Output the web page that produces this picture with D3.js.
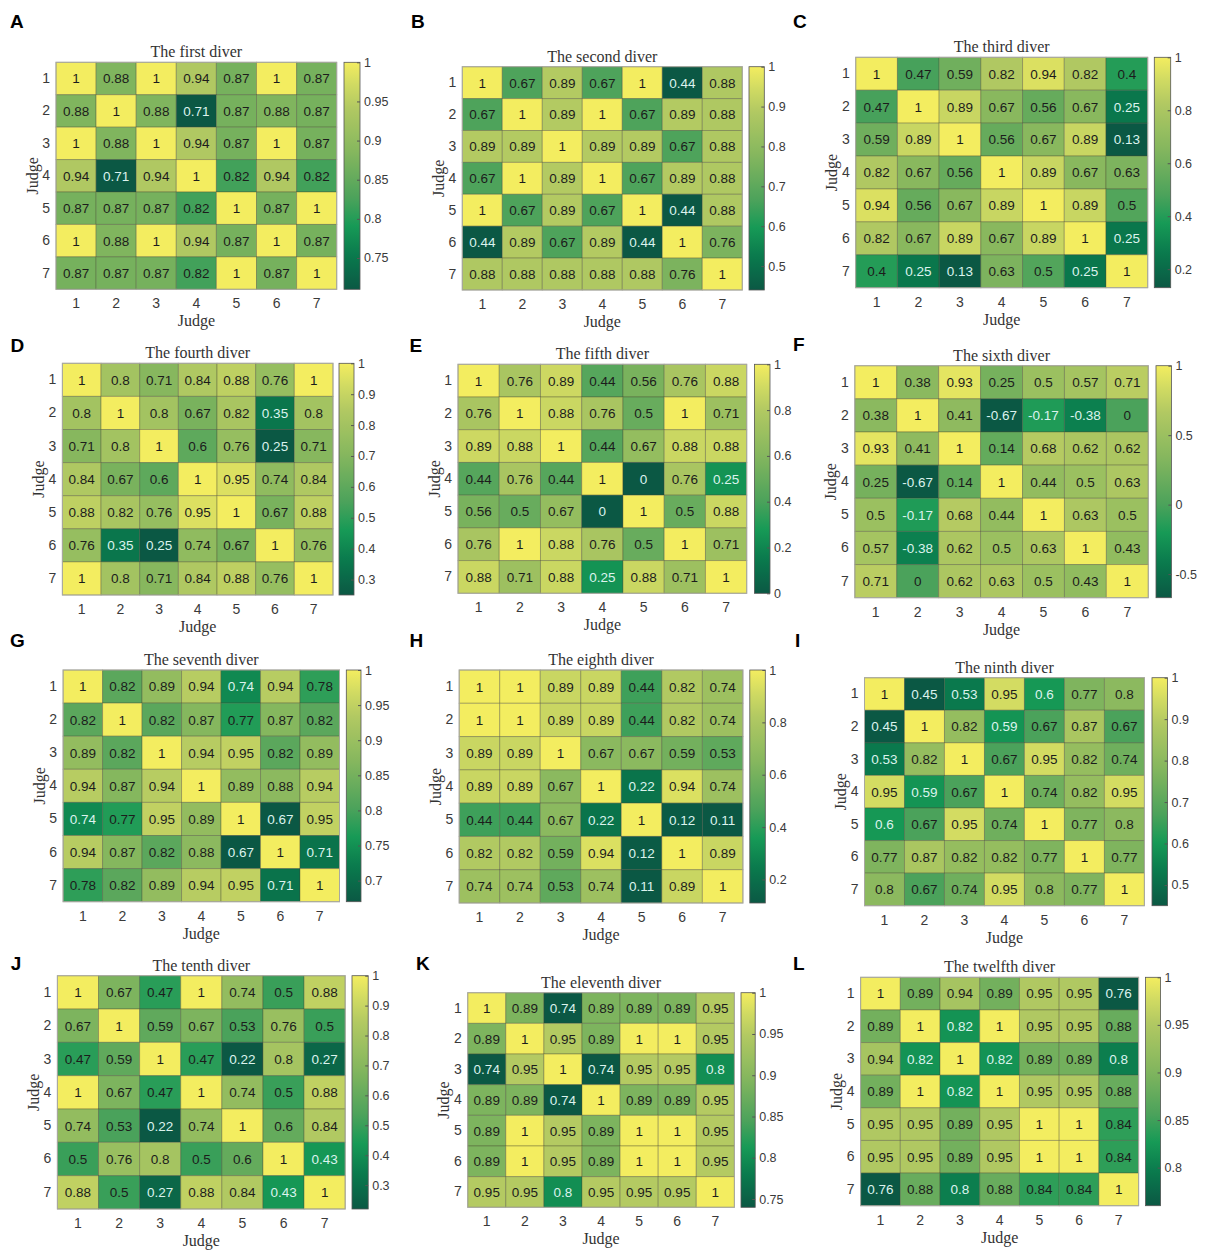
<!DOCTYPE html>
<html>
<head>
<meta charset="utf-8">
<script src="https://cdn.jsdelivr.net/npm/d3@7/dist/d3.min.js"></script>
<style>
body { margin: 0; background: #fff; }
svg { display: block; }
</style>
</head>
<body>
<svg id="fig" width="1205" height="1250"></svg>
<script>
var judges = [1, 2, 3, 4, 5, 6, 7];
var panelLetters = ["A", "B", "C", "D", "E", "F", "G", "H", "I", "J", "K", "L"];
var diverTitles = ["The first diver", "The second diver", "The third diver", "The fourth diver",
    "The fifth diver", "The sixth diver", "The seventh diver", "The eighth diver",
    "The ninth diver", "The tenth diver", "The eleventh diver", "The twelfth diver"];

// judge x judge agreement, row = judge on y axis
var diver1 = [
    [1, 0.88, 1, 0.94, 0.87, 1, 0.87],
    [0.88, 1, 0.88, 0.71, 0.87, 0.88, 0.87],
    [1, 0.88, 1, 0.94, 0.87, 1, 0.87],
    [0.94, 0.71, 0.94, 1, 0.82, 0.94, 0.82],
    [0.87, 0.87, 0.87, 0.82, 1, 0.87, 1],
    [1, 0.88, 1, 0.94, 0.87, 1, 0.87],
    [0.87, 0.87, 0.87, 0.82, 1, 0.87, 1]
];
var diver2 = [
    [1, 0.67, 0.89, 0.67, 1, 0.44, 0.88],
    [0.67, 1, 0.89, 1, 0.67, 0.89, 0.88],
    [0.89, 0.89, 1, 0.89, 0.89, 0.67, 0.88],
    [0.67, 1, 0.89, 1, 0.67, 0.89, 0.88],
    [1, 0.67, 0.89, 0.67, 1, 0.44, 0.88],
    [0.44, 0.89, 0.67, 0.89, 0.44, 1, 0.76],
    [0.88, 0.88, 0.88, 0.88, 0.88, 0.76, 1]
];
var diver3 = [
    [1, 0.47, 0.59, 0.82, 0.94, 0.82, 0.4],
    [0.47, 1, 0.89, 0.67, 0.56, 0.67, 0.25],
    [0.59, 0.89, 1, 0.56, 0.67, 0.89, 0.13],
    [0.82, 0.67, 0.56, 1, 0.89, 0.67, 0.63],
    [0.94, 0.56, 0.67, 0.89, 1, 0.89, 0.5],
    [0.82, 0.67, 0.89, 0.67, 0.89, 1, 0.25],
    [0.4, 0.25, 0.13, 0.63, 0.5, 0.25, 1]
];
var diver4 = [
    [1, 0.8, 0.71, 0.84, 0.88, 0.76, 1],
    [0.8, 1, 0.8, 0.67, 0.82, 0.35, 0.8],
    [0.71, 0.8, 1, 0.6, 0.76, 0.25, 0.71],
    [0.84, 0.67, 0.6, 1, 0.95, 0.74, 0.84],
    [0.88, 0.82, 0.76, 0.95, 1, 0.67, 0.88],
    [0.76, 0.35, 0.25, 0.74, 0.67, 1, 0.76],
    [1, 0.8, 0.71, 0.84, 0.88, 0.76, 1]
];
var diver5 = [
    [1, 0.76, 0.89, 0.44, 0.56, 0.76, 0.88],
    [0.76, 1, 0.88, 0.76, 0.5, 1, 0.71],
    [0.89, 0.88, 1, 0.44, 0.67, 0.88, 0.88],
    [0.44, 0.76, 0.44, 1, 0, 0.76, 0.25],
    [0.56, 0.5, 0.67, 0, 1, 0.5, 0.88],
    [0.76, 1, 0.88, 0.76, 0.5, 1, 0.71],
    [0.88, 0.71, 0.88, 0.25, 0.88, 0.71, 1]
];
var diver6 = [
    [1, 0.38, 0.93, 0.25, 0.5, 0.57, 0.71],
    [0.38, 1, 0.41, -0.67, -0.17, -0.38, 0],
    [0.93, 0.41, 1, 0.14, 0.68, 0.62, 0.62],
    [0.25, -0.67, 0.14, 1, 0.44, 0.5, 0.63],
    [0.5, -0.17, 0.68, 0.44, 1, 0.63, 0.5],
    [0.57, -0.38, 0.62, 0.5, 0.63, 1, 0.43],
    [0.71, 0, 0.62, 0.63, 0.5, 0.43, 1]
];
var diver7 = [
    [1, 0.82, 0.89, 0.94, 0.74, 0.94, 0.78],
    [0.82, 1, 0.82, 0.87, 0.77, 0.87, 0.82],
    [0.89, 0.82, 1, 0.94, 0.95, 0.82, 0.89],
    [0.94, 0.87, 0.94, 1, 0.89, 0.88, 0.94],
    [0.74, 0.77, 0.95, 0.89, 1, 0.67, 0.95],
    [0.94, 0.87, 0.82, 0.88, 0.67, 1, 0.71],
    [0.78, 0.82, 0.89, 0.94, 0.95, 0.71, 1]
];
var diver8 = [
    [1, 1, 0.89, 0.89, 0.44, 0.82, 0.74],
    [1, 1, 0.89, 0.89, 0.44, 0.82, 0.74],
    [0.89, 0.89, 1, 0.67, 0.67, 0.59, 0.53],
    [0.89, 0.89, 0.67, 1, 0.22, 0.94, 0.74],
    [0.44, 0.44, 0.67, 0.22, 1, 0.12, 0.11],
    [0.82, 0.82, 0.59, 0.94, 0.12, 1, 0.89],
    [0.74, 0.74, 0.53, 0.74, 0.11, 0.89, 1]
];
var diver9 = [
    [1, 0.45, 0.53, 0.95, 0.6, 0.77, 0.8],
    [0.45, 1, 0.82, 0.59, 0.67, 0.87, 0.67],
    [0.53, 0.82, 1, 0.67, 0.95, 0.82, 0.74],
    [0.95, 0.59, 0.67, 1, 0.74, 0.82, 0.95],
    [0.6, 0.67, 0.95, 0.74, 1, 0.77, 0.8],
    [0.77, 0.87, 0.82, 0.82, 0.77, 1, 0.77],
    [0.8, 0.67, 0.74, 0.95, 0.8, 0.77, 1]
];
var diver10 = [
    [1, 0.67, 0.47, 1, 0.74, 0.5, 0.88],
    [0.67, 1, 0.59, 0.67, 0.53, 0.76, 0.5],
    [0.47, 0.59, 1, 0.47, 0.22, 0.8, 0.27],
    [1, 0.67, 0.47, 1, 0.74, 0.5, 0.88],
    [0.74, 0.53, 0.22, 0.74, 1, 0.6, 0.84],
    [0.5, 0.76, 0.8, 0.5, 0.6, 1, 0.43],
    [0.88, 0.5, 0.27, 0.88, 0.84, 0.43, 1]
];
var diver11 = [
    [1, 0.89, 0.74, 0.89, 0.89, 0.89, 0.95],
    [0.89, 1, 0.95, 0.89, 1, 1, 0.95],
    [0.74, 0.95, 1, 0.74, 0.95, 0.95, 0.8],
    [0.89, 0.89, 0.74, 1, 0.89, 0.89, 0.95],
    [0.89, 1, 0.95, 0.89, 1, 1, 0.95],
    [0.89, 1, 0.95, 0.89, 1, 1, 0.95],
    [0.95, 0.95, 0.8, 0.95, 0.95, 0.95, 1]
];
var diver12 = [
    [1, 0.89, 0.94, 0.89, 0.95, 0.95, 0.76],
    [0.89, 1, 0.82, 1, 0.95, 0.95, 0.88],
    [0.94, 0.82, 1, 0.82, 0.89, 0.89, 0.8],
    [0.89, 1, 0.82, 1, 0.95, 0.95, 0.88],
    [0.95, 0.95, 0.89, 0.95, 1, 1, 0.84],
    [0.95, 0.95, 0.89, 0.95, 1, 1, 0.84],
    [0.76, 0.88, 0.8, 0.88, 0.84, 0.84, 1]
];

var cbTicks1 = [0.75, 0.8, 0.85, 0.9, 0.95, 1];
var cbTicks2 = [0.5, 0.6, 0.7, 0.8, 0.9, 1];
var cbTicks3 = [0.2, 0.4, 0.6, 0.8, 1];
var cbTicks4 = [0.3, 0.4, 0.5, 0.6, 0.7, 0.8, 0.9, 1];
var cbTicks5 = [0, 0.2, 0.4, 0.6, 0.8, 1];
var cbTicks6 = [-0.5, 0, 0.5, 1];
var cbTicks7 = [0.7, 0.75, 0.8, 0.85, 0.9, 0.95, 1];
var cbTicks8 = [0.2, 0.4, 0.6, 0.8, 1];
var cbTicks9 = [0.5, 0.6, 0.7, 0.8, 0.9, 1];
var cbTicks10 = [0.3, 0.4, 0.5, 0.6, 0.7, 0.8, 0.9, 1];
var cbTicks11 = [0.75, 0.8, 0.85, 0.9, 0.95, 1];
var cbTicks12 = [0.8, 0.85, 0.9, 0.95, 1];

var divers = [diver1, diver2, diver3, diver4, diver5, diver6, diver7, diver8, diver9, diver10, diver11, diver12];
var cbTicks = [cbTicks1, cbTicks2, cbTicks3, cbTicks4, cbTicks5, cbTicks6, cbTicks7, cbTicks8, cbTicks9, cbTicks10, cbTicks11, cbTicks12];

// where each panel sits on the page (heatmap box, colorbar x range, letter)
var boxes = [
    {l: 56, r: 336.7, t: 62.3, b: 289.3, cl: 344, cr: 360, lx: 10, ly: 28},
    {l: 462.3, r: 742.3, t: 66.7, b: 290, cl: 749, cr: 764.3, lx: 411, ly: 28},
    {l: 855.7, r: 1147.7, t: 57.3, b: 287.7, cl: 1154.3, cr: 1170.7, lx: 793, ly: 28},
    {l: 62.4, r: 333, t: 363.3, b: 595, cl: 339, cr: 354, lx: 10.5, ly: 352},
    {l: 458, r: 746.7, t: 364.3, b: 593.3, cl: 754.4, cr: 770, lx: 409.5, ly: 352},
    {l: 854.8, r: 1148.3, t: 365.7, b: 597.7, cl: 1156, cr: 1171.4, lx: 793, ly: 351},
    {l: 63.1, r: 339.5, t: 670, b: 901.7, cl: 346.3, cr: 361, lx: 10, ly: 647},
    {l: 459.2, r: 742.9, t: 670, b: 903, cl: 749.8, cr: 765.3, lx: 409.5, ly: 647},
    {l: 864.5, r: 1144.4, t: 677.7, b: 905.7, cl: 1152, cr: 1167.6, lx: 795, ly: 647},
    {l: 57.4, r: 345.2, t: 975.7, b: 1209, cl: 352, cr: 368.2, lx: 10.7, ly: 970},
    {l: 467.7, r: 734.4, t: 992.7, b: 1207.3, cl: 741, cr: 755.2, lx: 416, ly: 970},
    {l: 860.6, r: 1138.6, t: 977.3, b: 1205.7, cl: 1145.6, cr: 1160.6, lx: 793, ly: 970}
];

var sans = "'Liberation Sans', Arial, sans-serif",
    serif = "'Liberation Serif', 'Times New Roman', serif";

// dark teal -> green -> yellow
var cmapStops = [0, 0.15, 0.28, 0.4, 0.6, 0.8, 0.9, 1];
var cmap = d3.scaleLinear()
    .domain(cmapStops)
    .range(["#0b5844", "#0a7a4d", "#179a56", "#4ba25b", "#84b65e", "#b2c962", "#d0da62", "#f3ed60"])
    .interpolate(d3.interpolateRgb);

var svg = d3.select("#fig");
var defs = svg.append("defs");

var grad = defs.append("linearGradient")
    .attr("id", "cbgrad")
    .attr("x1", 0).attr("y1", 1).attr("x2", 0).attr("y2", 0);
d3.range(0, 1.0001, 0.02).forEach(function(t) {
    grad.append("stop").attr("offset", t).attr("stop-color", cmap(t));
});

divers.forEach(function(data, p) {
    var box = boxes[p];
    var lo = d3.min(data, function(row) { return d3.min(row); }),
        hi = 1;
    var norm = d3.scaleLinear().domain([lo, hi]).range([0, 1]);

    var x = d3.scaleBand().domain(judges).range([box.l, box.r]);
    var y = d3.scaleBand().domain(judges).range([box.t, box.b]);

    var g = svg.append("g");

    var cells = [];
    data.forEach(function(row, i) {
        row.forEach(function(v, j) {
            cells.push({row: judges[i], col: judges[j], v: v});
        });
    });

    g.selectAll("rect.cell").data(cells).enter().append("rect")
        .attr("class", "cell")
        .attr("x", function(d) { return x(d.col); })
        .attr("y", function(d) { return y(d.row); })
        .attr("width", x.bandwidth())
        .attr("height", y.bandwidth())
        .attr("fill", function(d) { return cmap(norm(d.v)); })
        .attr("stroke", "rgba(70,70,50,0.35)")
        .attr("stroke-width", 1);

    g.selectAll("text.val").data(cells).enter().append("text")
        .attr("class", "val")
        .attr("x", function(d) { return x(d.col) + x.bandwidth() / 2; })
        .attr("y", function(d) { return y(d.row) + y.bandwidth() / 2; })
        .attr("dy", "0.36em")
        .attr("text-anchor", "middle")
        .attr("font-family", sans)
        .attr("font-size", 13.5)
        .attr("fill", function(d) { return norm(d.v) < 0.301 ? "#dcf3ee" : "#1c1c1c"; })
        .text(function(d) { return String(d.v); });

    g.append("rect")
        .attr("x", box.l).attr("y", box.t)
        .attr("width", box.r - box.l).attr("height", box.b - box.t)
        .attr("fill", "none")
        .attr("stroke", "#a8a8a0")
        .attr("stroke-width", 1);

    var xAxis = d3.axisBottom(x).tickSize(0).tickPadding(9);
    var yAxis = d3.axisLeft(y).tickSize(0).tickPadding(6);

    var gx = g.append("g").attr("transform", "translate(0," + box.b + ")").call(xAxis);
    var gy = g.append("g").attr("transform", "translate(" + box.l + ",0)").call(yAxis);
    [gx, gy].forEach(function(a) {
        a.select(".domain").remove();
        a.selectAll("text")
            .attr("font-family", sans)
            .attr("font-size", 14)
            .attr("fill", "#3a3a3a");
    });

    var cx = (box.l + box.r) / 2,
        cy = (box.t + box.b) / 2;

    g.append("text")
        .attr("x", cx).attr("y", box.t - 5)
        .attr("text-anchor", "middle")
        .attr("font-family", serif)
        .attr("font-size", 16)
        .attr("fill", "#333")
        .text(diverTitles[p]);

    g.append("text")
        .attr("x", cx).attr("y", box.b + 37)
        .attr("text-anchor", "middle")
        .attr("font-family", serif)
        .attr("font-size", 16)
        .attr("fill", "#333")
        .text("Judge");

    g.append("text")
        .attr("transform", "translate(" + (box.l - 24) + "," + cy + ") rotate(-90)")
        .attr("dy", "0.35em")
        .attr("text-anchor", "middle")
        .attr("font-family", serif)
        .attr("font-size", 16)
        .attr("fill", "#333")
        .text("Judge");

    // colorbar
    var cbScale = d3.scaleLinear().domain([lo, hi]).range([box.b, box.t]);
    g.append("rect")
        .attr("x", box.cl).attr("y", box.t)
        .attr("width", box.cr - box.cl).attr("height", box.b - box.t)
        .attr("fill", "url(#cbgrad)")
        .attr("stroke", "#555")
        .attr("stroke-width", 0.8);

    var cbAxis = d3.axisRight(cbScale)
        .tickValues(cbTicks[p])
        .tickSize(-3)
        .tickPadding(4)
        .tickFormat(function(d) { return String(d); });
    var gc = g.append("g").attr("transform", "translate(" + box.cr + ",0)").call(cbAxis);
    gc.select(".domain").remove();
    gc.selectAll("line").attr("stroke", "#555");
    gc.selectAll("text")
        .attr("font-family", sans)
        .attr("font-size", 12.5)
        .attr("fill", "#3a3a3a");

    svg.append("text")
        .attr("x", box.lx).attr("y", box.ly)
        .attr("font-family", sans)
        .attr("font-weight", "bold")
        .attr("font-size", 19)
        .attr("fill", "#000")
        .text(panelLetters[p]);
});
</script>
</body>
</html>
